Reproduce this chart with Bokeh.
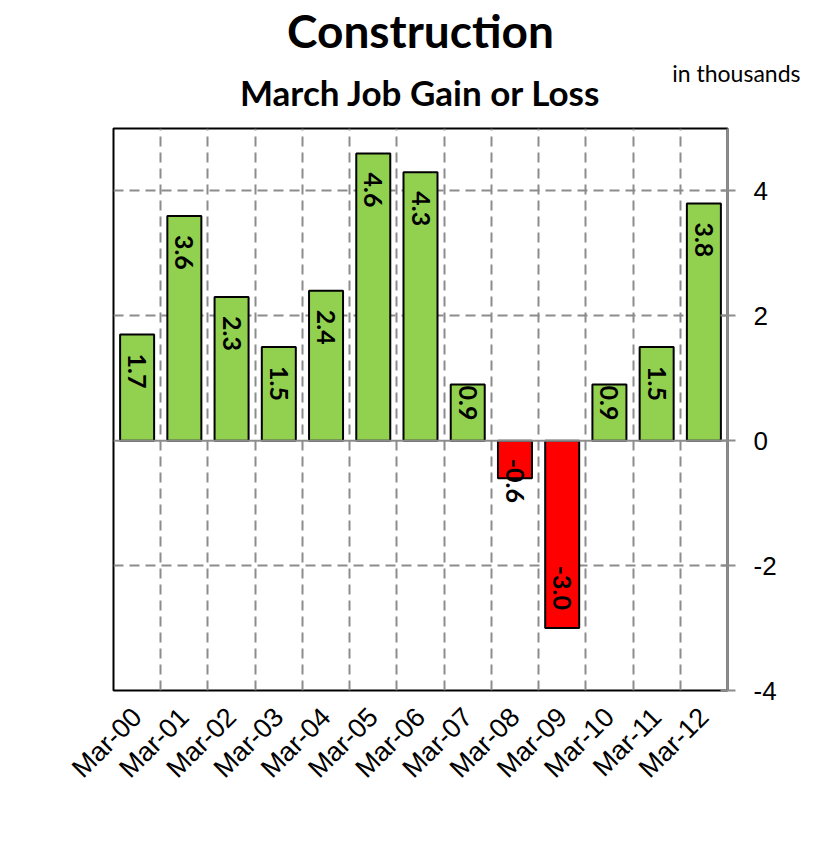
from bokeh.plotting import figure
from bokeh.models import (Range1d, FixedTicker, Span, ColumnDataSource, Title)
from bokeh.embed import file_html
from bokeh.resources import INLINE
from bokeh.core.properties import value

# ---- data ----
categories = ["Mar-00", "Mar-01", "Mar-02", "Mar-03", "Mar-04", "Mar-05", "Mar-06",
              "Mar-07", "Mar-08", "Mar-09", "Mar-10", "Mar-11", "Mar-12"]
job_change = [1.7, 3.6, 2.3, 1.5, 2.4, 4.6, 4.3, 0.9, -0.6, -3.0, 0.9, 1.5, 3.8]
y_ticks = [-4, -2, 0, 2, 4]
y_tick_labels = ["-4", "-2", "0", "2", "4"]

title_text = "Construction"
subtitle_text = "March Job Gain or Loss"
units_text = "in thousands"

GREEN = "#92D050"
RED = "#FF0000"
GRID = "#8c8c8c"

W, H = 827, 850
TOP = 128
FRAME_W, FRAME_H = 614, 562
LEFT = 113

n = len(categories)
xs = list(range(n))
colors = [GREEN if v >= 0 else RED for v in job_change]
labels = ["%.1f" % v for v in job_change]

p = figure(width=W, height=H, frame_width=FRAME_W, frame_height=FRAME_H,
           x_range=Range1d(-0.5, n - 0.5), y_range=Range1d(-4, 5),
           output_backend="svg", toolbar_location=None, title=None,
           y_axis_location="right",
           min_border_left=LEFT, min_border_right=W - LEFT - FRAME_W,
           min_border_top=TOP, min_border_bottom=H - TOP - FRAME_H)
p.background_fill_color = "white"
p.border_fill_color = "white"
p.outline_line_color = "black"
p.outline_line_width = 2

# titles (stacked outward from the frame)
p.add_layout(Title(text=subtitle_text, align="center", text_font="Lato",
                   text_font_style="bold", text_font_size="35px",
                   text_color="black", standoff=31), "above")
p.add_layout(Title(text=units_text, align="right", offset=-73, text_font="Lato",
                   text_font_style="normal", text_font_size="23px",
                   text_color="black", standoff=-66), "above")
p.add_layout(Title(text=title_text, align="center", text_font="Lato",
                   text_font_style="bold", text_font_size="46px",
                   text_color="black", standoff=-9), "above")
# small spacer row so the header rows fill the top border exactly
p.add_layout(Title(text=" ", text_font_size="10px", standoff=-9), "above")

# grids
p.xgrid.ticker = FixedTicker(ticks=[i + 0.5 for i in range(n - 1)])
p.ygrid.ticker = FixedTicker(ticks=[t for t in y_ticks if t not in (0, -4)])
for g in (p.xgrid, p.ygrid):
    g.grid_line_color = GRID
    g.grid_line_width = 2
    g.grid_line_dash = "10 6"

p.add_layout(Span(location=0, dimension="width", line_color=GRID, line_width=2))

src = ColumnDataSource(dict(x=xs, top=job_change, color=colors))
p.vbar(x="x", top="top", bottom=0, width=0.72, source=src,
       fill_color="color", line_color="black", line_width=2)

# value labels, rotated, "inside end"
px_per_unit = FRAME_H / 9.0
text_len_px = 38
lx, ly, lt, lalign, loff = [], [], [], [], []
for i, v in enumerate(job_change):
    h = abs(v) * px_per_unit
    fits = h > text_len_px + 40
    if v >= 0:
        lx.append(i); ly.append(v); lt.append(labels[i]); lalign.append("left")
        loff.append(19 if fits else 1)
    elif fits:
        lx.append(i); ly.append(v); lt.append(labels[i]); lalign.append("right"); loff.append(-18)
    else:
        lx.append(i); ly.append(0); lt.append(labels[i]); lalign.append("left"); loff.append(18)
lsrc = ColumnDataSource(dict(x=lx, y=ly, t=lt, a=lalign, o=loff))
p.text(x="x", y="y", text="t", source=lsrc, angle=-1.5707963, text_align="a",
       y_offset="o", text_baseline="middle", text_font=value("Lato"),
       text_font_style="bold", text_font_size="25px", text_color="black")

# right y axis
ya = p.yaxis[0]
ya.ticker = FixedTicker(ticks=y_ticks)
ya.major_label_overrides = dict(zip(y_ticks, y_tick_labels))
ya.axis_line_color = GRID
ya.axis_line_width = 2
ya.major_tick_line_color = GRID
ya.major_tick_line_width = 2
ya.major_tick_out = 8
ya.major_tick_in = 7
ya.minor_tick_line_color = None
ya.major_label_text_font = "Liberation Sans"
ya.major_label_text_font_size = "26px"
ya.major_label_text_color = "black"
ya.major_label_standoff = 18

# bottom x axis
xa = p.xaxis[0]
xa.ticker = FixedTicker(ticks=xs)
xa.major_label_overrides = {i: c for i, c in enumerate(categories)}
xa.major_label_orientation = 0.785398
xa.axis_line_color = None
xa.major_tick_line_color = None
xa.minor_tick_line_color = None
xa.major_label_text_font = "Liberation Sans"
xa.major_label_text_font_size = "27px"
xa.major_label_text_color = "black"
xa.major_label_standoff = 16

open("out.html", "w").write(file_html(p, INLINE))
